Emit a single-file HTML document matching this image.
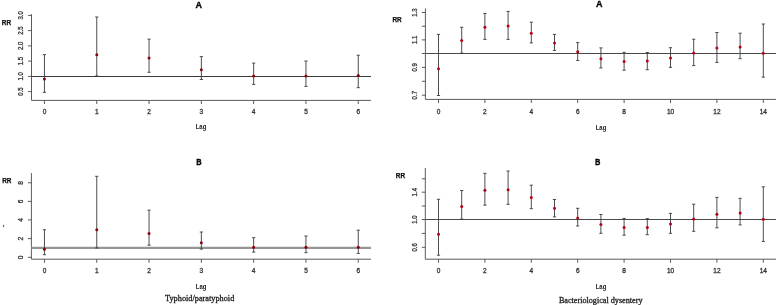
<!DOCTYPE html>
<html><head><meta charset="utf-8"><style>
html,body{margin:0;padding:0;background:#fff;}
body{width:777px;height:305px;overflow:hidden;}
svg{display:block;will-change:transform;}
</style></head><body>
<svg width="777" height="305" viewBox="0 0 777 305">
<rect width="777" height="305" fill="#fff"/>
<line x1="31.5" y1="14.2" x2="31.5" y2="100.4" stroke="#484848" stroke-width="0.9"/>
<line x1="31.5" y1="100.4" x2="371" y2="100.4" stroke="#484848" stroke-width="0.9"/>
<line x1="28" y1="91.6" x2="31.5" y2="91.6" stroke="#484848" stroke-width="0.9"/>
<line x1="28" y1="76.4" x2="31.5" y2="76.4" stroke="#484848" stroke-width="0.9"/>
<line x1="28" y1="61.1" x2="31.5" y2="61.1" stroke="#484848" stroke-width="0.9"/>
<line x1="28" y1="45.9" x2="31.5" y2="45.9" stroke="#484848" stroke-width="0.9"/>
<line x1="28" y1="30.6" x2="31.5" y2="30.6" stroke="#484848" stroke-width="0.9"/>
<line x1="28" y1="15.4" x2="31.5" y2="15.4" stroke="#484848" stroke-width="0.9"/>
<text x="23.3" y="91.6" font-family="Liberation Sans" font-size="6.6" font-weight="normal" fill="#333" text-anchor="middle" transform="rotate(-90 23.3 91.6)" stroke="#333" stroke-width="0.3" textLength="8.4" lengthAdjust="spacingAndGlyphs">0.5</text>
<text x="23.3" y="76.4" font-family="Liberation Sans" font-size="6.6" font-weight="normal" fill="#333" text-anchor="middle" transform="rotate(-90 23.3 76.4)" stroke="#333" stroke-width="0.3" textLength="8.4" lengthAdjust="spacingAndGlyphs">1.0</text>
<text x="23.3" y="61.1" font-family="Liberation Sans" font-size="6.6" font-weight="normal" fill="#333" text-anchor="middle" transform="rotate(-90 23.3 61.1)" stroke="#333" stroke-width="0.3" textLength="8.4" lengthAdjust="spacingAndGlyphs">1.5</text>
<text x="23.3" y="45.9" font-family="Liberation Sans" font-size="6.6" font-weight="normal" fill="#333" text-anchor="middle" transform="rotate(-90 23.3 45.9)" stroke="#333" stroke-width="0.3" textLength="8.4" lengthAdjust="spacingAndGlyphs">2.0</text>
<text x="23.3" y="30.6" font-family="Liberation Sans" font-size="6.6" font-weight="normal" fill="#333" text-anchor="middle" transform="rotate(-90 23.3 30.6)" stroke="#333" stroke-width="0.3" textLength="8.4" lengthAdjust="spacingAndGlyphs">2.5</text>
<text x="23.3" y="15.4" font-family="Liberation Sans" font-size="6.6" font-weight="normal" fill="#333" text-anchor="middle" transform="rotate(-90 23.3 15.4)" stroke="#333" stroke-width="0.3" textLength="8.4" lengthAdjust="spacingAndGlyphs">3.0</text>
<line x1="44.45" y1="100.4" x2="44.45" y2="104" stroke="#484848" stroke-width="0.9"/>
<line x1="96.75" y1="100.4" x2="96.75" y2="104" stroke="#484848" stroke-width="0.9"/>
<line x1="149.05" y1="100.4" x2="149.05" y2="104" stroke="#484848" stroke-width="0.9"/>
<line x1="201.35" y1="100.4" x2="201.35" y2="104" stroke="#484848" stroke-width="0.9"/>
<line x1="253.65" y1="100.4" x2="253.65" y2="104" stroke="#484848" stroke-width="0.9"/>
<line x1="305.95" y1="100.4" x2="305.95" y2="104" stroke="#484848" stroke-width="0.9"/>
<line x1="358.25" y1="100.4" x2="358.25" y2="104" stroke="#484848" stroke-width="0.9"/>
<text x="44.45" y="113.9" font-family="Liberation Sans" font-size="6.5" font-weight="normal" fill="#333" text-anchor="middle" stroke="#333" stroke-width="0.3">0</text>
<text x="96.75" y="113.9" font-family="Liberation Sans" font-size="6.5" font-weight="normal" fill="#333" text-anchor="middle" stroke="#333" stroke-width="0.3">1</text>
<text x="149.05" y="113.9" font-family="Liberation Sans" font-size="6.5" font-weight="normal" fill="#333" text-anchor="middle" stroke="#333" stroke-width="0.3">2</text>
<text x="201.35" y="113.9" font-family="Liberation Sans" font-size="6.5" font-weight="normal" fill="#333" text-anchor="middle" stroke="#333" stroke-width="0.3">3</text>
<text x="253.65" y="113.9" font-family="Liberation Sans" font-size="6.5" font-weight="normal" fill="#333" text-anchor="middle" stroke="#333" stroke-width="0.3">4</text>
<text x="305.95" y="113.9" font-family="Liberation Sans" font-size="6.5" font-weight="normal" fill="#333" text-anchor="middle" stroke="#333" stroke-width="0.3">5</text>
<text x="358.25" y="113.9" font-family="Liberation Sans" font-size="6.5" font-weight="normal" fill="#333" text-anchor="middle" stroke="#333" stroke-width="0.3">6</text>
<line x1="31.5" y1="76.5" x2="371" y2="76.5" stroke="#3a3a3a" stroke-width="1.0"/>
<line x1="44.45" y1="54.6" x2="44.45" y2="92.3" stroke="#3a3a3a" stroke-width="0.9"/>
<line x1="42.85" y1="54.6" x2="46.05" y2="54.6" stroke="#3a3a3a" stroke-width="0.9"/>
<line x1="42.85" y1="92.3" x2="46.05" y2="92.3" stroke="#3a3a3a" stroke-width="0.9"/>
<circle cx="44.45" cy="79" r="1.5" fill="#8e0010"/>
<line x1="96.75" y1="17" x2="96.75" y2="76" stroke="#3a3a3a" stroke-width="0.9"/>
<line x1="95.15" y1="17" x2="98.35" y2="17" stroke="#3a3a3a" stroke-width="0.9"/>
<line x1="95.15" y1="76" x2="98.35" y2="76" stroke="#3a3a3a" stroke-width="0.9"/>
<circle cx="96.75" cy="54.7" r="1.5" fill="#8e0010"/>
<line x1="149.05" y1="39.1" x2="149.05" y2="72.3" stroke="#3a3a3a" stroke-width="0.9"/>
<line x1="147.45" y1="39.1" x2="150.65" y2="39.1" stroke="#3a3a3a" stroke-width="0.9"/>
<line x1="147.45" y1="72.3" x2="150.65" y2="72.3" stroke="#3a3a3a" stroke-width="0.9"/>
<circle cx="149.05" cy="58.1" r="1.5" fill="#8e0010"/>
<line x1="201.35" y1="56.6" x2="201.35" y2="79.5" stroke="#3a3a3a" stroke-width="0.9"/>
<line x1="199.75" y1="56.6" x2="202.95" y2="56.6" stroke="#3a3a3a" stroke-width="0.9"/>
<line x1="199.75" y1="79.5" x2="202.95" y2="79.5" stroke="#3a3a3a" stroke-width="0.9"/>
<circle cx="201.35" cy="69.7" r="1.5" fill="#8e0010"/>
<line x1="253.65" y1="63.1" x2="253.65" y2="84.4" stroke="#3a3a3a" stroke-width="0.9"/>
<line x1="252.05" y1="63.1" x2="255.25" y2="63.1" stroke="#3a3a3a" stroke-width="0.9"/>
<line x1="252.05" y1="84.4" x2="255.25" y2="84.4" stroke="#3a3a3a" stroke-width="0.9"/>
<circle cx="253.65" cy="75.9" r="1.5" fill="#8e0010"/>
<line x1="305.95" y1="61" x2="305.95" y2="86.4" stroke="#3a3a3a" stroke-width="0.9"/>
<line x1="304.35" y1="61" x2="307.55" y2="61" stroke="#3a3a3a" stroke-width="0.9"/>
<line x1="304.35" y1="86.4" x2="307.55" y2="86.4" stroke="#3a3a3a" stroke-width="0.9"/>
<circle cx="305.95" cy="75.9" r="1.5" fill="#8e0010"/>
<line x1="358.25" y1="55.2" x2="358.25" y2="87.7" stroke="#3a3a3a" stroke-width="0.9"/>
<line x1="356.65" y1="55.2" x2="359.85" y2="55.2" stroke="#3a3a3a" stroke-width="0.9"/>
<line x1="356.65" y1="87.7" x2="359.85" y2="87.7" stroke="#3a3a3a" stroke-width="0.9"/>
<circle cx="358.25" cy="75.4" r="1.5" fill="#8e0010"/>
<text x="198.8" y="7.8" font-family="Liberation Sans" font-size="9" font-weight="bold" fill="#000" text-anchor="middle" stroke="#000" stroke-width="0.3">A</text>
<text x="201" y="128.9" font-family="Liberation Sans" font-size="6.6" font-weight="bold" fill="#222" text-anchor="middle" textLength="10.6" lengthAdjust="spacingAndGlyphs">Lag</text>
<text x="1.8" y="24.7" font-family="Liberation Sans" font-size="6.4" font-weight="bold" fill="#111" text-anchor="start" stroke="#111" stroke-width="0.25">RR</text>
<line x1="425.4" y1="8.5" x2="425.4" y2="99.4" stroke="#484848" stroke-width="0.9"/>
<line x1="425.4" y1="99.4" x2="776" y2="99.4" stroke="#484848" stroke-width="0.9"/>
<line x1="421.9" y1="95.2" x2="425.4" y2="95.2" stroke="#484848" stroke-width="0.9"/>
<line x1="421.9" y1="81.3" x2="425.4" y2="81.3" stroke="#484848" stroke-width="0.9"/>
<line x1="421.9" y1="67.4" x2="425.4" y2="67.4" stroke="#484848" stroke-width="0.9"/>
<line x1="421.9" y1="53.5" x2="425.4" y2="53.5" stroke="#484848" stroke-width="0.9"/>
<line x1="421.9" y1="39.9" x2="425.4" y2="39.9" stroke="#484848" stroke-width="0.9"/>
<line x1="421.9" y1="26.2" x2="425.4" y2="26.2" stroke="#484848" stroke-width="0.9"/>
<line x1="421.9" y1="12.5" x2="425.4" y2="12.5" stroke="#484848" stroke-width="0.9"/>
<text x="416.6" y="95.2" font-family="Liberation Sans" font-size="6.6" font-weight="normal" fill="#333" text-anchor="middle" transform="rotate(-90 416.6 95.2)" stroke="#333" stroke-width="0.3" textLength="8.4" lengthAdjust="spacingAndGlyphs">0.7</text>
<text x="416.6" y="67.4" font-family="Liberation Sans" font-size="6.6" font-weight="normal" fill="#333" text-anchor="middle" transform="rotate(-90 416.6 67.4)" stroke="#333" stroke-width="0.3" textLength="8.4" lengthAdjust="spacingAndGlyphs">0.9</text>
<text x="416.6" y="39.9" font-family="Liberation Sans" font-size="6.6" font-weight="normal" fill="#333" text-anchor="middle" transform="rotate(-90 416.6 39.9)" stroke="#333" stroke-width="0.3" textLength="8.4" lengthAdjust="spacingAndGlyphs">1.1</text>
<text x="416.6" y="12.5" font-family="Liberation Sans" font-size="6.6" font-weight="normal" fill="#333" text-anchor="middle" transform="rotate(-90 416.6 12.5)" stroke="#333" stroke-width="0.3" textLength="8.4" lengthAdjust="spacingAndGlyphs">1.3</text>
<line x1="438.5" y1="99.4" x2="438.5" y2="103" stroke="#484848" stroke-width="0.9"/>
<line x1="484.9" y1="99.4" x2="484.9" y2="103" stroke="#484848" stroke-width="0.9"/>
<line x1="531.3" y1="99.4" x2="531.3" y2="103" stroke="#484848" stroke-width="0.9"/>
<line x1="577.7" y1="99.4" x2="577.7" y2="103" stroke="#484848" stroke-width="0.9"/>
<line x1="624.1" y1="99.4" x2="624.1" y2="103" stroke="#484848" stroke-width="0.9"/>
<line x1="670.5" y1="99.4" x2="670.5" y2="103" stroke="#484848" stroke-width="0.9"/>
<line x1="716.9" y1="99.4" x2="716.9" y2="103" stroke="#484848" stroke-width="0.9"/>
<line x1="763.3" y1="99.4" x2="763.3" y2="103" stroke="#484848" stroke-width="0.9"/>
<text x="438.5" y="113.6" font-family="Liberation Sans" font-size="6.5" font-weight="normal" fill="#333" text-anchor="middle" stroke="#333" stroke-width="0.3">0</text>
<text x="484.9" y="113.6" font-family="Liberation Sans" font-size="6.5" font-weight="normal" fill="#333" text-anchor="middle" stroke="#333" stroke-width="0.3">2</text>
<text x="531.3" y="113.6" font-family="Liberation Sans" font-size="6.5" font-weight="normal" fill="#333" text-anchor="middle" stroke="#333" stroke-width="0.3">4</text>
<text x="577.7" y="113.6" font-family="Liberation Sans" font-size="6.5" font-weight="normal" fill="#333" text-anchor="middle" stroke="#333" stroke-width="0.3">6</text>
<text x="624.1" y="113.6" font-family="Liberation Sans" font-size="6.5" font-weight="normal" fill="#333" text-anchor="middle" stroke="#333" stroke-width="0.3">8</text>
<text x="670.5" y="113.6" font-family="Liberation Sans" font-size="6.5" font-weight="normal" fill="#333" text-anchor="middle" stroke="#333" stroke-width="0.3">10</text>
<text x="716.9" y="113.6" font-family="Liberation Sans" font-size="6.5" font-weight="normal" fill="#333" text-anchor="middle" stroke="#333" stroke-width="0.3">12</text>
<text x="763.3" y="113.6" font-family="Liberation Sans" font-size="6.5" font-weight="normal" fill="#333" text-anchor="middle" stroke="#333" stroke-width="0.3">14</text>
<line x1="425.4" y1="53.5" x2="776" y2="53.5" stroke="#4a4a4a" stroke-width="1.0"/>
<line x1="438.5" y1="34.4" x2="438.5" y2="95.5" stroke="#3a3a3a" stroke-width="0.9"/>
<line x1="436.9" y1="34.4" x2="440.1" y2="34.4" stroke="#3a3a3a" stroke-width="0.9"/>
<line x1="436.9" y1="95.5" x2="440.1" y2="95.5" stroke="#3a3a3a" stroke-width="0.9"/>
<circle cx="438.5" cy="68.8" r="1.5" fill="#b80018"/>
<line x1="461.7" y1="27.3" x2="461.7" y2="53.2" stroke="#3a3a3a" stroke-width="0.9"/>
<line x1="460.1" y1="27.3" x2="463.3" y2="27.3" stroke="#3a3a3a" stroke-width="0.9"/>
<line x1="460.1" y1="53.2" x2="463.3" y2="53.2" stroke="#3a3a3a" stroke-width="0.9"/>
<circle cx="461.7" cy="40.6" r="1.5" fill="#b80018"/>
<line x1="484.9" y1="13.5" x2="484.9" y2="39.4" stroke="#3a3a3a" stroke-width="0.9"/>
<line x1="483.3" y1="13.5" x2="486.5" y2="13.5" stroke="#3a3a3a" stroke-width="0.9"/>
<line x1="483.3" y1="39.4" x2="486.5" y2="39.4" stroke="#3a3a3a" stroke-width="0.9"/>
<circle cx="484.9" cy="27.3" r="1.5" fill="#b80018"/>
<line x1="508.1" y1="11.4" x2="508.1" y2="39.4" stroke="#3a3a3a" stroke-width="0.9"/>
<line x1="506.5" y1="11.4" x2="509.7" y2="11.4" stroke="#3a3a3a" stroke-width="0.9"/>
<line x1="506.5" y1="39.4" x2="509.7" y2="39.4" stroke="#3a3a3a" stroke-width="0.9"/>
<circle cx="508.1" cy="26.1" r="1.5" fill="#b80018"/>
<line x1="531.3" y1="22.2" x2="531.3" y2="42.9" stroke="#3a3a3a" stroke-width="0.9"/>
<line x1="529.7" y1="22.2" x2="532.9" y2="22.2" stroke="#3a3a3a" stroke-width="0.9"/>
<line x1="529.7" y1="42.9" x2="532.9" y2="42.9" stroke="#3a3a3a" stroke-width="0.9"/>
<circle cx="531.3" cy="33.2" r="1.5" fill="#b80018"/>
<line x1="554.5" y1="34.4" x2="554.5" y2="50.4" stroke="#3a3a3a" stroke-width="0.9"/>
<line x1="552.9" y1="34.4" x2="556.1" y2="34.4" stroke="#3a3a3a" stroke-width="0.9"/>
<line x1="552.9" y1="50.4" x2="556.1" y2="50.4" stroke="#3a3a3a" stroke-width="0.9"/>
<circle cx="554.5" cy="42.9" r="1.5" fill="#b80018"/>
<line x1="577.7" y1="42.6" x2="577.7" y2="60.5" stroke="#3a3a3a" stroke-width="0.9"/>
<line x1="576.1" y1="42.6" x2="579.3" y2="42.6" stroke="#3a3a3a" stroke-width="0.9"/>
<line x1="576.1" y1="60.5" x2="579.3" y2="60.5" stroke="#3a3a3a" stroke-width="0.9"/>
<circle cx="577.7" cy="51.8" r="1.5" fill="#b80018"/>
<line x1="600.9" y1="47.9" x2="600.9" y2="67.9" stroke="#3a3a3a" stroke-width="0.9"/>
<line x1="599.3" y1="47.9" x2="602.5" y2="47.9" stroke="#3a3a3a" stroke-width="0.9"/>
<line x1="599.3" y1="67.9" x2="602.5" y2="67.9" stroke="#3a3a3a" stroke-width="0.9"/>
<circle cx="600.9" cy="58.7" r="1.5" fill="#b80018"/>
<line x1="624.1" y1="52.3" x2="624.1" y2="70.2" stroke="#3a3a3a" stroke-width="0.9"/>
<line x1="622.5" y1="52.3" x2="625.7" y2="52.3" stroke="#3a3a3a" stroke-width="0.9"/>
<line x1="622.5" y1="70.2" x2="625.7" y2="70.2" stroke="#3a3a3a" stroke-width="0.9"/>
<circle cx="624.1" cy="61.4" r="1.5" fill="#b80018"/>
<line x1="647.3" y1="52.5" x2="647.3" y2="69.7" stroke="#3a3a3a" stroke-width="0.9"/>
<line x1="645.7" y1="52.5" x2="648.9" y2="52.5" stroke="#3a3a3a" stroke-width="0.9"/>
<line x1="645.7" y1="69.7" x2="648.9" y2="69.7" stroke="#3a3a3a" stroke-width="0.9"/>
<circle cx="647.3" cy="61" r="1.5" fill="#b80018"/>
<line x1="670.5" y1="47.7" x2="670.5" y2="67.4" stroke="#3a3a3a" stroke-width="0.9"/>
<line x1="668.9" y1="47.7" x2="672.1" y2="47.7" stroke="#3a3a3a" stroke-width="0.9"/>
<line x1="668.9" y1="67.4" x2="672.1" y2="67.4" stroke="#3a3a3a" stroke-width="0.9"/>
<circle cx="670.5" cy="58" r="1.5" fill="#b80018"/>
<line x1="693.7" y1="39.2" x2="693.7" y2="65.6" stroke="#3a3a3a" stroke-width="0.9"/>
<line x1="692.1" y1="39.2" x2="695.3" y2="39.2" stroke="#3a3a3a" stroke-width="0.9"/>
<line x1="692.1" y1="65.6" x2="695.3" y2="65.6" stroke="#3a3a3a" stroke-width="0.9"/>
<circle cx="693.7" cy="53" r="1.5" fill="#b80018"/>
<line x1="716.9" y1="32.5" x2="716.9" y2="62.4" stroke="#3a3a3a" stroke-width="0.9"/>
<line x1="715.3" y1="32.5" x2="718.5" y2="32.5" stroke="#3a3a3a" stroke-width="0.9"/>
<line x1="715.3" y1="62.4" x2="718.5" y2="62.4" stroke="#3a3a3a" stroke-width="0.9"/>
<circle cx="716.9" cy="48.1" r="1.5" fill="#b80018"/>
<line x1="740.1" y1="33.2" x2="740.1" y2="58.7" stroke="#3a3a3a" stroke-width="0.9"/>
<line x1="738.5" y1="33.2" x2="741.7" y2="33.2" stroke="#3a3a3a" stroke-width="0.9"/>
<line x1="738.5" y1="58.7" x2="741.7" y2="58.7" stroke="#3a3a3a" stroke-width="0.9"/>
<circle cx="740.1" cy="47" r="1.5" fill="#b80018"/>
<line x1="763.3" y1="24" x2="763.3" y2="77.2" stroke="#3a3a3a" stroke-width="0.9"/>
<line x1="761.7" y1="24" x2="764.9" y2="24" stroke="#3a3a3a" stroke-width="0.9"/>
<line x1="761.7" y1="77.2" x2="764.9" y2="77.2" stroke="#3a3a3a" stroke-width="0.9"/>
<circle cx="763.3" cy="53.2" r="1.5" fill="#b80018"/>
<text x="599.2" y="7" font-family="Liberation Sans" font-size="9" font-weight="bold" fill="#000" text-anchor="middle" stroke="#000" stroke-width="0.3">A</text>
<text x="601" y="129.8" font-family="Liberation Sans" font-size="6.6" font-weight="bold" fill="#222" text-anchor="middle" textLength="10.6" lengthAdjust="spacingAndGlyphs">Lag</text>
<text x="392.5" y="21.5" font-family="Liberation Sans" font-size="6.4" font-weight="bold" fill="#111" text-anchor="start" stroke="#111" stroke-width="0.25">RR</text>
<line x1="31.4" y1="173.1" x2="31.4" y2="259.2" stroke="#484848" stroke-width="0.9"/>
<line x1="31.4" y1="259.2" x2="371" y2="259.2" stroke="#484848" stroke-width="0.9"/>
<line x1="27.9" y1="257.3" x2="31.4" y2="257.3" stroke="#484848" stroke-width="0.9"/>
<line x1="27.9" y1="238.6" x2="31.4" y2="238.6" stroke="#484848" stroke-width="0.9"/>
<line x1="27.9" y1="219.9" x2="31.4" y2="219.9" stroke="#484848" stroke-width="0.9"/>
<line x1="27.9" y1="201.4" x2="31.4" y2="201.4" stroke="#484848" stroke-width="0.9"/>
<line x1="27.9" y1="182.8" x2="31.4" y2="182.8" stroke="#484848" stroke-width="0.9"/>
<text x="23" y="257.3" font-family="Liberation Sans" font-size="6.6" font-weight="normal" fill="#333" text-anchor="middle" transform="rotate(-90 23 257.3)" stroke="#333" stroke-width="0.3">0</text>
<text x="23" y="238.6" font-family="Liberation Sans" font-size="6.6" font-weight="normal" fill="#333" text-anchor="middle" transform="rotate(-90 23 238.6)" stroke="#333" stroke-width="0.3">2</text>
<text x="23" y="219.9" font-family="Liberation Sans" font-size="6.6" font-weight="normal" fill="#333" text-anchor="middle" transform="rotate(-90 23 219.9)" stroke="#333" stroke-width="0.3">4</text>
<text x="23" y="201.4" font-family="Liberation Sans" font-size="6.6" font-weight="normal" fill="#333" text-anchor="middle" transform="rotate(-90 23 201.4)" stroke="#333" stroke-width="0.3">6</text>
<text x="23" y="182.8" font-family="Liberation Sans" font-size="6.6" font-weight="normal" fill="#333" text-anchor="middle" transform="rotate(-90 23 182.8)" stroke="#333" stroke-width="0.3">8</text>
<line x1="44.45" y1="259.2" x2="44.45" y2="262.8" stroke="#484848" stroke-width="0.9"/>
<line x1="96.75" y1="259.2" x2="96.75" y2="262.8" stroke="#484848" stroke-width="0.9"/>
<line x1="149.05" y1="259.2" x2="149.05" y2="262.8" stroke="#484848" stroke-width="0.9"/>
<line x1="201.35" y1="259.2" x2="201.35" y2="262.8" stroke="#484848" stroke-width="0.9"/>
<line x1="253.65" y1="259.2" x2="253.65" y2="262.8" stroke="#484848" stroke-width="0.9"/>
<line x1="305.95" y1="259.2" x2="305.95" y2="262.8" stroke="#484848" stroke-width="0.9"/>
<line x1="358.25" y1="259.2" x2="358.25" y2="262.8" stroke="#484848" stroke-width="0.9"/>
<text x="44.45" y="272.8" font-family="Liberation Sans" font-size="6.5" font-weight="normal" fill="#333" text-anchor="middle" stroke="#333" stroke-width="0.3">0</text>
<text x="96.75" y="272.8" font-family="Liberation Sans" font-size="6.5" font-weight="normal" fill="#333" text-anchor="middle" stroke="#333" stroke-width="0.3">1</text>
<text x="149.05" y="272.8" font-family="Liberation Sans" font-size="6.5" font-weight="normal" fill="#333" text-anchor="middle" stroke="#333" stroke-width="0.3">2</text>
<text x="201.35" y="272.8" font-family="Liberation Sans" font-size="6.5" font-weight="normal" fill="#333" text-anchor="middle" stroke="#333" stroke-width="0.3">3</text>
<text x="253.65" y="272.8" font-family="Liberation Sans" font-size="6.5" font-weight="normal" fill="#333" text-anchor="middle" stroke="#333" stroke-width="0.3">4</text>
<text x="305.95" y="272.8" font-family="Liberation Sans" font-size="6.5" font-weight="normal" fill="#333" text-anchor="middle" stroke="#333" stroke-width="0.3">5</text>
<text x="358.25" y="272.8" font-family="Liberation Sans" font-size="6.5" font-weight="normal" fill="#333" text-anchor="middle" stroke="#333" stroke-width="0.3">6</text>
<line x1="31.4" y1="247.9" x2="371" y2="247.9" stroke="#959595" stroke-width="2.2"/>
<line x1="44.45" y1="229.8" x2="44.45" y2="254.7" stroke="#3a3a3a" stroke-width="0.9"/>
<line x1="42.85" y1="229.8" x2="46.05" y2="229.8" stroke="#3a3a3a" stroke-width="0.9"/>
<line x1="42.85" y1="254.7" x2="46.05" y2="254.7" stroke="#3a3a3a" stroke-width="0.9"/>
<circle cx="44.45" cy="249.2" r="1.5" fill="#8e0010"/>
<line x1="96.75" y1="176.3" x2="96.75" y2="248" stroke="#3a3a3a" stroke-width="0.9"/>
<line x1="95.15" y1="176.3" x2="98.35" y2="176.3" stroke="#3a3a3a" stroke-width="0.9"/>
<line x1="95.15" y1="248" x2="98.35" y2="248" stroke="#3a3a3a" stroke-width="0.9"/>
<circle cx="96.75" cy="229.8" r="1.5" fill="#8e0010"/>
<line x1="149.05" y1="210.2" x2="149.05" y2="245.2" stroke="#3a3a3a" stroke-width="0.9"/>
<line x1="147.45" y1="210.2" x2="150.65" y2="210.2" stroke="#3a3a3a" stroke-width="0.9"/>
<line x1="147.45" y1="245.2" x2="150.65" y2="245.2" stroke="#3a3a3a" stroke-width="0.9"/>
<circle cx="149.05" cy="233.4" r="1.5" fill="#8e0010"/>
<line x1="201.35" y1="232" x2="201.35" y2="249.1" stroke="#3a3a3a" stroke-width="0.9"/>
<line x1="199.75" y1="232" x2="202.95" y2="232" stroke="#3a3a3a" stroke-width="0.9"/>
<line x1="199.75" y1="249.1" x2="202.95" y2="249.1" stroke="#3a3a3a" stroke-width="0.9"/>
<circle cx="201.35" cy="242.8" r="1.5" fill="#8e0010"/>
<line x1="253.65" y1="237.7" x2="253.65" y2="252.1" stroke="#3a3a3a" stroke-width="0.9"/>
<line x1="252.05" y1="237.7" x2="255.25" y2="237.7" stroke="#3a3a3a" stroke-width="0.9"/>
<line x1="252.05" y1="252.1" x2="255.25" y2="252.1" stroke="#3a3a3a" stroke-width="0.9"/>
<circle cx="253.65" cy="247.2" r="1.5" fill="#8e0010"/>
<line x1="305.95" y1="236" x2="305.95" y2="252.7" stroke="#3a3a3a" stroke-width="0.9"/>
<line x1="304.35" y1="236" x2="307.55" y2="236" stroke="#3a3a3a" stroke-width="0.9"/>
<line x1="304.35" y1="252.7" x2="307.55" y2="252.7" stroke="#3a3a3a" stroke-width="0.9"/>
<circle cx="305.95" cy="247.2" r="1.5" fill="#8e0010"/>
<line x1="358.25" y1="230.2" x2="358.25" y2="253.4" stroke="#3a3a3a" stroke-width="0.9"/>
<line x1="356.65" y1="230.2" x2="359.85" y2="230.2" stroke="#3a3a3a" stroke-width="0.9"/>
<line x1="356.65" y1="253.4" x2="359.85" y2="253.4" stroke="#3a3a3a" stroke-width="0.9"/>
<circle cx="358.25" cy="247.2" r="1.5" fill="#8e0010"/>
<text x="199" y="165.1" font-family="Liberation Sans" font-size="9" font-weight="bold" fill="#000" text-anchor="middle" stroke="#000" stroke-width="0.3" textLength="5.4" lengthAdjust="spacingAndGlyphs">B</text>
<text x="201.1" y="288.7" font-family="Liberation Sans" font-size="6.6" font-weight="bold" fill="#222" text-anchor="middle" textLength="10.6" lengthAdjust="spacingAndGlyphs">Lag</text>
<text x="2.2" y="183.4" font-family="Liberation Sans" font-size="6.4" font-weight="bold" fill="#111" text-anchor="start" stroke="#111" stroke-width="0.25">RR</text>
<line x1="425.3" y1="168" x2="425.3" y2="259.2" stroke="#484848" stroke-width="0.9"/>
<line x1="425.3" y1="259.2" x2="776" y2="259.2" stroke="#484848" stroke-width="0.9"/>
<line x1="421.8" y1="247.3" x2="425.3" y2="247.3" stroke="#484848" stroke-width="0.9"/>
<line x1="421.8" y1="233.4" x2="425.3" y2="233.4" stroke="#484848" stroke-width="0.9"/>
<line x1="421.8" y1="219.5" x2="425.3" y2="219.5" stroke="#484848" stroke-width="0.9"/>
<line x1="421.8" y1="206" x2="425.3" y2="206" stroke="#484848" stroke-width="0.9"/>
<line x1="421.8" y1="192.2" x2="425.3" y2="192.2" stroke="#484848" stroke-width="0.9"/>
<line x1="421.8" y1="178.8" x2="425.3" y2="178.8" stroke="#484848" stroke-width="0.9"/>
<text x="416.6" y="247.3" font-family="Liberation Sans" font-size="6.6" font-weight="normal" fill="#333" text-anchor="middle" transform="rotate(-90 416.6 247.3)" stroke="#333" stroke-width="0.3" textLength="8.4" lengthAdjust="spacingAndGlyphs">0.6</text>
<text x="416.6" y="219.5" font-family="Liberation Sans" font-size="6.6" font-weight="normal" fill="#333" text-anchor="middle" transform="rotate(-90 416.6 219.5)" stroke="#333" stroke-width="0.3" textLength="8.4" lengthAdjust="spacingAndGlyphs">1.0</text>
<text x="416.6" y="192.2" font-family="Liberation Sans" font-size="6.6" font-weight="normal" fill="#333" text-anchor="middle" transform="rotate(-90 416.6 192.2)" stroke="#333" stroke-width="0.3" textLength="8.4" lengthAdjust="spacingAndGlyphs">1.4</text>
<line x1="438.5" y1="259.2" x2="438.5" y2="262.8" stroke="#484848" stroke-width="0.9"/>
<line x1="484.9" y1="259.2" x2="484.9" y2="262.8" stroke="#484848" stroke-width="0.9"/>
<line x1="531.3" y1="259.2" x2="531.3" y2="262.8" stroke="#484848" stroke-width="0.9"/>
<line x1="577.7" y1="259.2" x2="577.7" y2="262.8" stroke="#484848" stroke-width="0.9"/>
<line x1="624.1" y1="259.2" x2="624.1" y2="262.8" stroke="#484848" stroke-width="0.9"/>
<line x1="670.5" y1="259.2" x2="670.5" y2="262.8" stroke="#484848" stroke-width="0.9"/>
<line x1="716.9" y1="259.2" x2="716.9" y2="262.8" stroke="#484848" stroke-width="0.9"/>
<line x1="763.3" y1="259.2" x2="763.3" y2="262.8" stroke="#484848" stroke-width="0.9"/>
<text x="438.5" y="272.8" font-family="Liberation Sans" font-size="6.5" font-weight="normal" fill="#333" text-anchor="middle" stroke="#333" stroke-width="0.3">0</text>
<text x="484.9" y="272.8" font-family="Liberation Sans" font-size="6.5" font-weight="normal" fill="#333" text-anchor="middle" stroke="#333" stroke-width="0.3">2</text>
<text x="531.3" y="272.8" font-family="Liberation Sans" font-size="6.5" font-weight="normal" fill="#333" text-anchor="middle" stroke="#333" stroke-width="0.3">4</text>
<text x="577.7" y="272.8" font-family="Liberation Sans" font-size="6.5" font-weight="normal" fill="#333" text-anchor="middle" stroke="#333" stroke-width="0.3">6</text>
<text x="624.1" y="272.8" font-family="Liberation Sans" font-size="6.5" font-weight="normal" fill="#333" text-anchor="middle" stroke="#333" stroke-width="0.3">8</text>
<text x="670.5" y="272.8" font-family="Liberation Sans" font-size="6.5" font-weight="normal" fill="#333" text-anchor="middle" stroke="#333" stroke-width="0.3">10</text>
<text x="716.9" y="272.8" font-family="Liberation Sans" font-size="6.5" font-weight="normal" fill="#333" text-anchor="middle" stroke="#333" stroke-width="0.3">12</text>
<text x="763.3" y="272.8" font-family="Liberation Sans" font-size="6.5" font-weight="normal" fill="#333" text-anchor="middle" stroke="#333" stroke-width="0.3">14</text>
<line x1="425.3" y1="219.5" x2="776" y2="219.5" stroke="#4a4a4a" stroke-width="1.0"/>
<line x1="438.5" y1="199.3" x2="438.5" y2="255.2" stroke="#3a3a3a" stroke-width="0.9"/>
<line x1="436.9" y1="199.3" x2="440.1" y2="199.3" stroke="#3a3a3a" stroke-width="0.9"/>
<line x1="436.9" y1="255.2" x2="440.1" y2="255.2" stroke="#3a3a3a" stroke-width="0.9"/>
<circle cx="438.5" cy="234.3" r="1.5" fill="#b80018"/>
<line x1="461.7" y1="190.5" x2="461.7" y2="219.2" stroke="#3a3a3a" stroke-width="0.9"/>
<line x1="460.1" y1="190.5" x2="463.3" y2="190.5" stroke="#3a3a3a" stroke-width="0.9"/>
<line x1="460.1" y1="219.2" x2="463.3" y2="219.2" stroke="#3a3a3a" stroke-width="0.9"/>
<circle cx="461.7" cy="206.4" r="1.5" fill="#b80018"/>
<line x1="484.9" y1="173.3" x2="484.9" y2="205.2" stroke="#3a3a3a" stroke-width="0.9"/>
<line x1="483.3" y1="173.3" x2="486.5" y2="173.3" stroke="#3a3a3a" stroke-width="0.9"/>
<line x1="483.3" y1="205.2" x2="486.5" y2="205.2" stroke="#3a3a3a" stroke-width="0.9"/>
<circle cx="484.9" cy="190.3" r="1.5" fill="#b80018"/>
<line x1="508.1" y1="171" x2="508.1" y2="204.3" stroke="#3a3a3a" stroke-width="0.9"/>
<line x1="506.5" y1="171" x2="509.7" y2="171" stroke="#3a3a3a" stroke-width="0.9"/>
<line x1="506.5" y1="204.3" x2="509.7" y2="204.3" stroke="#3a3a3a" stroke-width="0.9"/>
<circle cx="508.1" cy="189.8" r="1.5" fill="#b80018"/>
<line x1="531.3" y1="185.2" x2="531.3" y2="208.7" stroke="#3a3a3a" stroke-width="0.9"/>
<line x1="529.7" y1="185.2" x2="532.9" y2="185.2" stroke="#3a3a3a" stroke-width="0.9"/>
<line x1="529.7" y1="208.7" x2="532.9" y2="208.7" stroke="#3a3a3a" stroke-width="0.9"/>
<circle cx="531.3" cy="197.4" r="1.5" fill="#b80018"/>
<line x1="554.5" y1="199.5" x2="554.5" y2="216.9" stroke="#3a3a3a" stroke-width="0.9"/>
<line x1="552.9" y1="199.5" x2="556.1" y2="199.5" stroke="#3a3a3a" stroke-width="0.9"/>
<line x1="552.9" y1="216.9" x2="556.1" y2="216.9" stroke="#3a3a3a" stroke-width="0.9"/>
<circle cx="554.5" cy="208.2" r="1.5" fill="#b80018"/>
<line x1="577.7" y1="208.3" x2="577.7" y2="226" stroke="#3a3a3a" stroke-width="0.9"/>
<line x1="576.1" y1="208.3" x2="579.3" y2="208.3" stroke="#3a3a3a" stroke-width="0.9"/>
<line x1="576.1" y1="226" x2="579.3" y2="226" stroke="#3a3a3a" stroke-width="0.9"/>
<circle cx="577.7" cy="218" r="1.5" fill="#b80018"/>
<line x1="600.9" y1="214.5" x2="600.9" y2="233.3" stroke="#3a3a3a" stroke-width="0.9"/>
<line x1="599.3" y1="214.5" x2="602.5" y2="214.5" stroke="#3a3a3a" stroke-width="0.9"/>
<line x1="599.3" y1="233.3" x2="602.5" y2="233.3" stroke="#3a3a3a" stroke-width="0.9"/>
<circle cx="600.9" cy="224.4" r="1.5" fill="#b80018"/>
<line x1="624.1" y1="218.4" x2="624.1" y2="235.2" stroke="#3a3a3a" stroke-width="0.9"/>
<line x1="622.5" y1="218.4" x2="625.7" y2="218.4" stroke="#3a3a3a" stroke-width="0.9"/>
<line x1="622.5" y1="235.2" x2="625.7" y2="235.2" stroke="#3a3a3a" stroke-width="0.9"/>
<circle cx="624.1" cy="227.4" r="1.5" fill="#b80018"/>
<line x1="647.3" y1="218.6" x2="647.3" y2="234.7" stroke="#3a3a3a" stroke-width="0.9"/>
<line x1="645.7" y1="218.6" x2="648.9" y2="218.6" stroke="#3a3a3a" stroke-width="0.9"/>
<line x1="645.7" y1="234.7" x2="648.9" y2="234.7" stroke="#3a3a3a" stroke-width="0.9"/>
<circle cx="647.3" cy="227.4" r="1.5" fill="#b80018"/>
<line x1="670.5" y1="213.4" x2="670.5" y2="233.3" stroke="#3a3a3a" stroke-width="0.9"/>
<line x1="668.9" y1="213.4" x2="672.1" y2="213.4" stroke="#3a3a3a" stroke-width="0.9"/>
<line x1="668.9" y1="233.3" x2="672.1" y2="233.3" stroke="#3a3a3a" stroke-width="0.9"/>
<circle cx="670.5" cy="224.1" r="1.5" fill="#b80018"/>
<line x1="693.7" y1="204.2" x2="693.7" y2="231.3" stroke="#3a3a3a" stroke-width="0.9"/>
<line x1="692.1" y1="204.2" x2="695.3" y2="204.2" stroke="#3a3a3a" stroke-width="0.9"/>
<line x1="692.1" y1="231.3" x2="695.3" y2="231.3" stroke="#3a3a3a" stroke-width="0.9"/>
<circle cx="693.7" cy="219.1" r="1.5" fill="#b80018"/>
<line x1="716.9" y1="197.4" x2="716.9" y2="227.8" stroke="#3a3a3a" stroke-width="0.9"/>
<line x1="715.3" y1="197.4" x2="718.5" y2="197.4" stroke="#3a3a3a" stroke-width="0.9"/>
<line x1="715.3" y1="227.8" x2="718.5" y2="227.8" stroke="#3a3a3a" stroke-width="0.9"/>
<circle cx="716.9" cy="214.2" r="1.5" fill="#b80018"/>
<line x1="740.1" y1="198.3" x2="740.1" y2="224.9" stroke="#3a3a3a" stroke-width="0.9"/>
<line x1="738.5" y1="198.3" x2="741.7" y2="198.3" stroke="#3a3a3a" stroke-width="0.9"/>
<line x1="738.5" y1="224.9" x2="741.7" y2="224.9" stroke="#3a3a3a" stroke-width="0.9"/>
<circle cx="740.1" cy="213.1" r="1.5" fill="#b80018"/>
<line x1="763.3" y1="186.8" x2="763.3" y2="241.4" stroke="#3a3a3a" stroke-width="0.9"/>
<line x1="761.7" y1="186.8" x2="764.9" y2="186.8" stroke="#3a3a3a" stroke-width="0.9"/>
<line x1="761.7" y1="241.4" x2="764.9" y2="241.4" stroke="#3a3a3a" stroke-width="0.9"/>
<circle cx="763.3" cy="219.3" r="1.5" fill="#b80018"/>
<text x="597.6" y="164.9" font-family="Liberation Sans" font-size="9" font-weight="bold" fill="#000" text-anchor="middle" stroke="#000" stroke-width="0.3" textLength="5.4" lengthAdjust="spacingAndGlyphs">B</text>
<text x="601" y="289.2" font-family="Liberation Sans" font-size="6.6" font-weight="bold" fill="#222" text-anchor="middle" textLength="10.6" lengthAdjust="spacingAndGlyphs">Lag</text>
<text x="395.8" y="177.9" font-family="Liberation Sans" font-size="6.4" font-weight="bold" fill="#111" text-anchor="start" stroke="#111" stroke-width="0.25">RR</text>
<rect x="2.9" y="224.8" width="1.3" height="2.4" fill="#777"/>
<text x="165" y="301.3" font-family="Liberation Serif" font-size="8.6" font-weight="normal" fill="#1a1a1a" text-anchor="start" textLength="69.3" lengthAdjust="spacingAndGlyphs" stroke="#1a1a1a" stroke-width="0.3">Typhoid/paratyphoid</text>
<text x="558.9" y="302.6" font-family="Liberation Serif" font-size="8.6" font-weight="normal" fill="#1a1a1a" text-anchor="start" textLength="83.6" lengthAdjust="spacingAndGlyphs" stroke="#1a1a1a" stroke-width="0.3">Bacteriological dysentery</text>
</svg>
</body></html>
